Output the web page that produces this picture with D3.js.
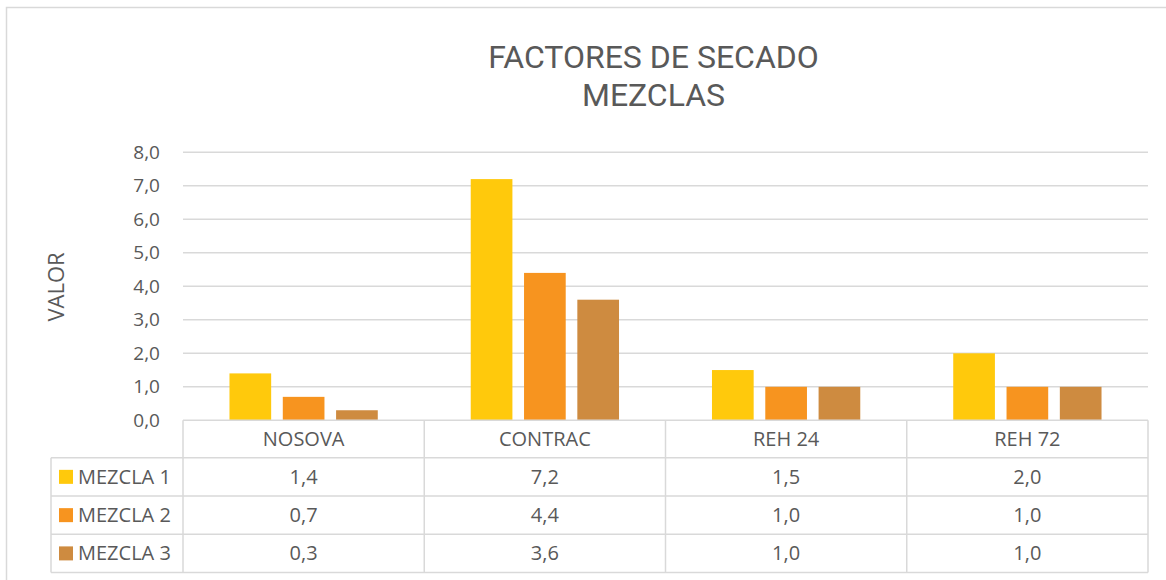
<!DOCTYPE html>
<html><head><meta charset="utf-8">
<script src="https://cdn.jsdelivr.net/npm/d3@7"></script>
<style>
html,body{margin:0;padding:0;background:#fff;}
svg{display:block;font-family:"Open Sans",sans-serif;}
</style></head>
<body>
<svg id="c" width="1166" height="580"></svg>
<script>
const titleLines = ["FACTORES DE SECADO", "MEZCLAS"];
const categories = ["NOSOVA", "CONTRAC", "REH 24", "REH 72"];
const seriesNames = ["MEZCLA 1", "MEZCLA 2", "MEZCLA 3"];
const mezcla1 = [1.4, 7.2, 1.5, 2.0];
const mezcla2 = [0.7, 4.4, 1.0, 1.0];
const mezcla3 = [0.3, 3.6, 1.0, 1.0];
const yTicks = [0, 1, 2, 3, 4, 5, 6, 7, 8];
const colors = ["#FFC90C", "#F7941F", "#CE8B40"];
const yLabel = "VALOR";

(function () {
const series = [mezcla1, mezcla2, mezcla3];
const svg = d3.select("#c");
const textColor = "#595959", lineColor = "#D9D9D9";
const fmt = v => d3.format(".1f")(v).replace(".", ",");

// chart border
svg.append("rect").attr("x", 6.5).attr("y", 7.5).attr("width", 1180).attr("height", 600)
  .attr("fill", "#fff").attr("stroke", lineColor).attr("stroke-width", 1.5);

const pL = 183, pR = 1148, pT = 152.3, pB = 420.3;
const x = d3.scaleBand().domain(categories).range([pL, pR]).padding(0);
const xs = d3.scaleBand().domain(seriesNames).range([0, x.bandwidth()]).paddingInner(0.218).paddingOuter(0.872);
const y = d3.scaleLinear().domain([0, 8]).range([pB, pT]);

// title
svg.append("g").selectAll("text").data(titleLines).join("text")
  .attr("x", 653.5).attr("y", (d, i) => 67.5 + i * 38)
  .attr("text-anchor", "middle").attr("fill", textColor)
  .style("font-family", "Roboto").style("font-size", "32px").text(d => d);

// gridlines
svg.append("g").selectAll("line").data(yTicks.filter(t => t > 0)).join("line")
  .attr("x1", pL).attr("x2", pR).attr("y1", d => y(d)).attr("y2", d => y(d))
  .attr("stroke", lineColor).attr("stroke-width", 1.5);

// y axis labels
const yAxis = d3.axisLeft(y).tickValues(yTicks).tickFormat(fmt).tickSize(0).tickPadding(23);
const ga = svg.append("g").attr("transform", `translate(${pL},0)`).call(yAxis);
ga.select(".domain").remove();
ga.selectAll("text").attr("fill", textColor).style("font-size", "19px").style("font-family", "Open Sans");

// y label
svg.append("text").attr("transform", "translate(64,287) rotate(-90)")
  .attr("text-anchor", "middle").attr("fill", textColor).style("font-size", "22px").text(yLabel);

// bars
const gb = svg.append("g");
series.forEach((vals, si) => {
  gb.append("g").selectAll("rect").data(vals).join("rect")
    .attr("x", (d, i) => x(categories[i]) + xs(seriesNames[si]))
    .attr("width", xs.bandwidth())
    .attr("y", d => y(d)).attr("height", d => y(0) - y(d))
    .attr("fill", colors[si]);
});

// data table
const rowH = [420.3, 457.7, 496, 534.3, 572.5];
const legLeft = 51;
const gt = svg.append("g");
gt.append("line").attr("x1", pL).attr("x2", pR).attr("y1", rowH[0]).attr("y2", rowH[0])
  .attr("stroke", lineColor).attr("stroke-width", 1.5);
rowH.slice(1).forEach(r => gt.append("line").attr("x1", legLeft).attr("x2", pR)
  .attr("y1", r).attr("y2", r).attr("stroke", lineColor).attr("stroke-width", 1.5));
const bounds = categories.map(c => x(c)).concat([pR]);
bounds.forEach(b => gt.append("line").attr("x1", b).attr("x2", b).attr("y1", rowH[0]).attr("y2", rowH[4])
  .attr("stroke", lineColor).attr("stroke-width", 1.5));
gt.append("line").attr("x1", legLeft).attr("x2", legLeft).attr("y1", rowH[1]).attr("y2", rowH[4])
  .attr("stroke", lineColor).attr("stroke-width", 1.5);

gt.append("g").selectAll("text").data(categories).join("text")
  .attr("x", d => x(d) + x.bandwidth() / 2).attr("y", (rowH[0] + rowH[1]) / 2 + 7)
  .attr("text-anchor", "middle").attr("fill", textColor).style("font-size", "20px").text(d => d);

series.forEach((vals, si) => {
  const cy = (rowH[si + 1] + rowH[si + 2]) / 2;
  gt.append("rect").attr("x", 59).attr("y", cy - 7).attr("width", 14).attr("height", 14).attr("fill", colors[si]);
  gt.append("text").attr("x", 78).attr("y", cy + 7).attr("fill", textColor)
    .style("font-size", "20px").text(seriesNames[si]);
  gt.append("g").selectAll("text").data(vals).join("text")
    .attr("x", (d, i) => x(categories[i]) + x.bandwidth() / 2).attr("y", cy + 7)
    .attr("text-anchor", "middle").attr("fill", textColor).style("font-size", "20px").text(d => fmt(d));
});
})();
</script>
</body></html>
